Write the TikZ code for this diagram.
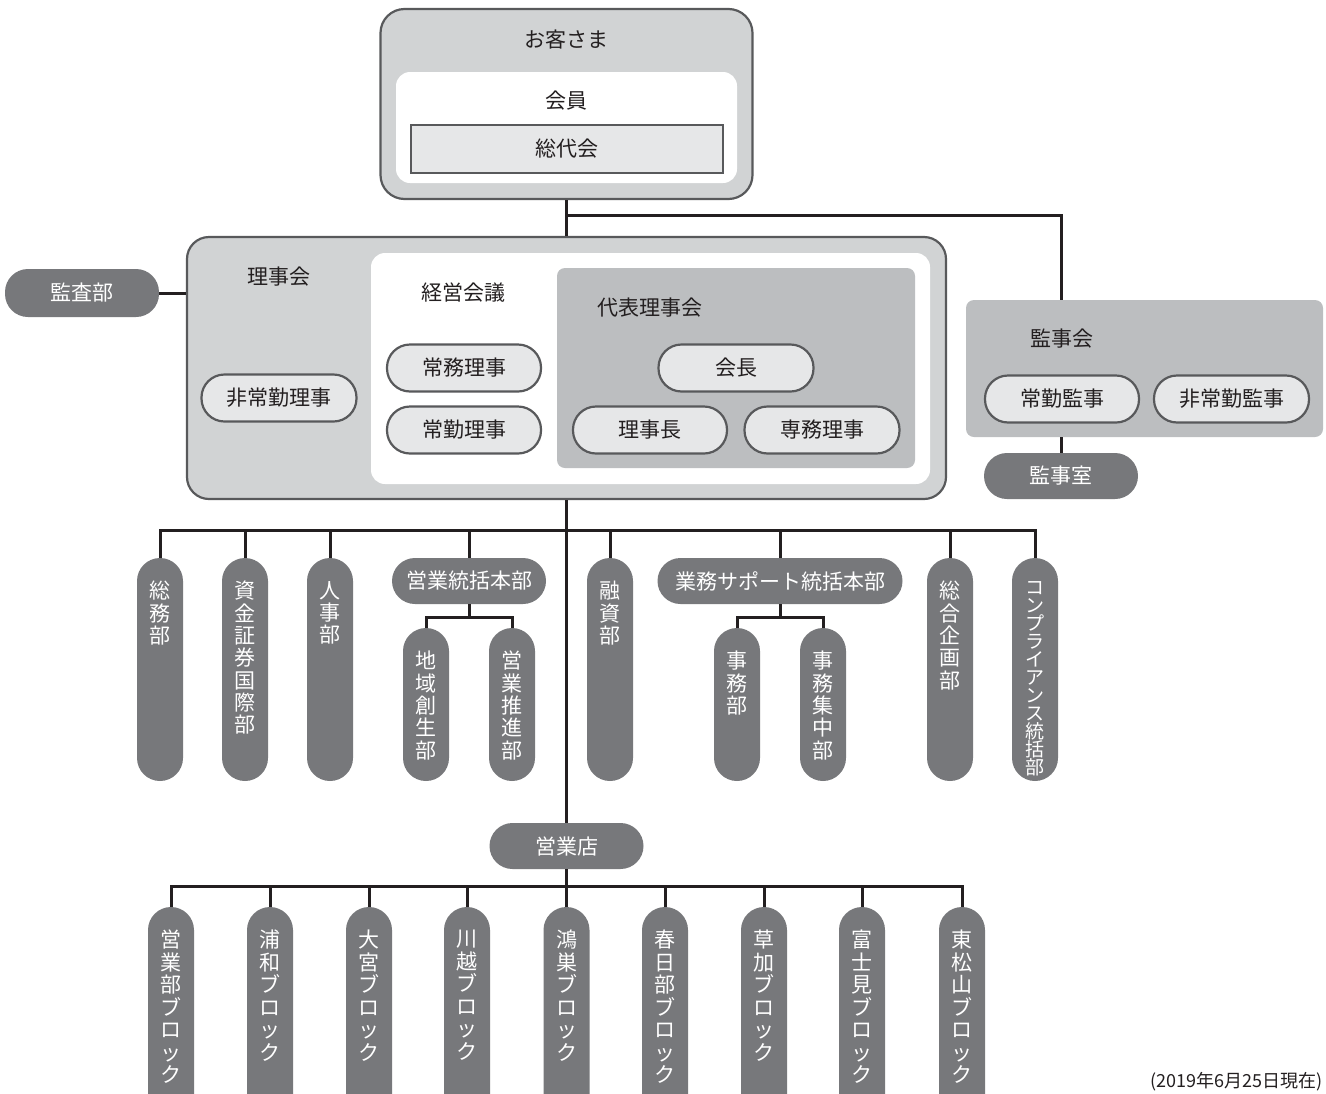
\documentclass[tikz,border=0pt]{standalone}
\usepackage{fontspec}
\setmainfont{Noto Sans CJK JP}
\definecolor{lgray}{HTML}{D1D3D4}
\definecolor{mgray}{HTML}{BCBEC0}
\definecolor{pgray}{HTML}{E6E7E8}
\definecolor{dgray}{HTML}{77787B}
\definecolor{bord}{HTML}{58595B}
\definecolor{ink}{HTML}{231F20}
\newcommand\fszA{\fontsize{21}{22.3}\selectfont}
\newcommand\fszC{\fontsize{19}{18}\selectfont}
\newcommand\fszB{\fontsize{21}{22.5}\selectfont}
\newcommand\fszL{\fontsize{21}{24}\selectfont}
\tikzset{
  outerbox/.style={draw=bord, line width=2.2pt, fill=lgray, rounded corners=24pt, inner sep=0},
  whitebox/.style={fill=white, rounded corners=14pt, inner sep=0},
  midbox/.style={fill=mgray, rounded corners=8pt, inner sep=0},
  lpill/.style={draw=bord, line width=2.2pt, fill=pgray, rounded corners=23pt, minimum width=154, minimum height=47, text=ink, font=\fszL, inner sep=0},
  dhpill/.style={fill=dgray, rounded corners=23pt, minimum height=46, text=white, font=\fszL, inner sep=0},
  dpill/.style={fill=dgray, rounded corners=23pt, minimum width=46, inner sep=0},
  vtext/.style={text=white, align=center, inner sep=0, font=\fszA},
  vtextc/.style={text=white, align=center, inner sep=0, font=\fszC},
  vtextb/.style={text=white, align=center, inner sep=0, font=\fszB},
  lbl/.style={text=ink, font=\fszL, inner sep=0},
  conn/.style={draw=ink, line width=3pt}
}
\newcommand\vpill[6]{%
  \pgfmathsetmacro\vph{#4-#3}%
  \pgfmathsetmacro\vpc{(#3+#4)/2}%
  \pgfmathsetmacro\vpt{#3+23}%
  \node[dpill, minimum height=\vph] (#1) at (#2,\vpc) {};
  \node[#6, anchor=north] (#1-t) at (#2,\vpt) {#5};
}
\begin{document}
\lineskiplimit=-30pt
\begin{tikzpicture}[x=1pt,y=-1pt]
\useasboundingbox (0,0) rectangle (1326,1093);
\clip (0,0) rectangle (1326,1093);

% top box
\node[outerbox, minimum width=372, minimum height=190] (kyaku) at (566.5,104) {};
\node[lbl] (kyakut) at (566.5,40) {お客さま};
\node[whitebox, minimum width=341, minimum height=111] (kaiin) at (566.5,127.5) {};
\node[lbl] (kaiint) at (566.5,101) {会員};
\node[draw=bord, line width=2.2pt, fill=pgray, minimum width=312, minimum height=48, inner sep=0, lbl] (sodai) at (567,149) {総代会};

% board box
\node[outerbox, minimum width=759, minimum height=262, rounded corners=22pt] (riji) at (566.5,368) {};
\node[lbl] (rijit) at (279,277) {理事会};
\node[whitebox, minimum width=559, minimum height=231] (keiei) at (650.5,368.5) {};
\node[lbl] (keieit) at (463,293) {経営会議};
\node[midbox, minimum width=358, minimum height=200] (daihyo) at (736,368) {};
\node[lbl] (daihyot) at (650,308) {代表理事会};

\node[lpill, minimum width=155] (hijokin) at (279,398) {非常勤理事};
\node[lpill] (jomu) at (464,368) {常務理事};
\node[lpill] (jokin) at (464,430) {常勤理事};
\node[lpill, minimum width=155] (kaicho) at (736,368) {会長};
\node[lpill] (rijicho) at (650,430) {理事長};
\node[lpill, minimum width=155] (senmu) at (822,430) {専務理事};

% audit
\node[dhpill, minimum width=154, minimum height=48] (kansa) at (82,293) {監査部};
\node[midbox, minimum width=357, minimum height=137] (kanjikai) at (1144.5,368.5) {};
\node[lbl] (kanjikait) at (1062,339) {監事会};
\node[lpill] (jokinkanji) at (1062,399) {常勤監事};
\node[lpill, minimum width=155] (hijokinkanji) at (1231.5,399) {非常勤監事};
\node[dhpill, minimum width=154] (kanjishitsu) at (1061,476) {監事室};

% connectors top
\coordinate (j1) at (566.5,215);
\draw[conn] (kyaku.south) -- (riji.north);
\draw[conn] (j1) -| (kanjishitsu.north |- kanjikai.north);
\draw[conn] (kanjikai.south -| kanjishitsu.north) -- (kanjishitsu.north);
\draw[conn] (kansa.east) -- (kansa.east -| riji.west);

% departments
\vpill{somu}{160}{558}{781}{総\\務\\部}{vtext}
\vpill{shikin}{245}{558}{781}{資\\金\\証\\券\\国\\際\\部}{vtext}
\vpill{jinji}{330}{558}{781}{人\\事\\部}{vtext}
\node[dhpill, minimum width=154] (eitou) at (469,581) {営業統括本部};
\vpill{chiiki}{426}{628}{781}{地\\域\\創\\生\\部}{vtext}
\vpill{suishin}{512}{628}{781}{営\\業\\推\\進\\部}{vtext}
\vpill{yushi}{610}{558}{781}{融\\資\\部}{vtext}
\node[dhpill, minimum width=245] (gyomu) at (780,581) {業務サポート統括本部};
\vpill{jimu}{737}{628}{781}{事\\務\\部}{vtext}
\vpill{shuchu}{823}{628}{781}{事\\務\\集\\中\\部}{vtext}
\vpill{sogo}{950}{558}{781}{総\\合\\企\\画\\部}{vtext}
\vpill{kompla}{1035}{558}{781}{コ\\ン\\プ\\ラ\\イ\\ア\\ン\\ス\\統\\括\\部}{vtextc}

\coordinate (bus) at (566.5,530);
\draw[conn] (riji.south) -- (bus);
\draw[conn] (somu.north) |- (bus) -| (kompla.north);
\foreach \n in {shikin,jinji,eitou,yushi,gyomu,sogo}
  \draw[conn] (\n.north) -- (\n.north |- bus);
\coordinate (sb1) at (469,617);
\draw[conn] (eitou.south) -- (sb1);
\draw[conn] (chiiki.north) |- (sb1) -| (suishin.north);
\coordinate (sb2) at (780,617);
\draw[conn] (gyomu.south) -- (sb2);
\draw[conn] (jimu.north) |- (sb2) -| (shuchu.north);

% branches
\node[dhpill, minimum width=154] (eigyoten) at (566.5,846) {営業店};
\draw[conn] (bus) -- (eigyoten.north);
\vpill{b1}{171}{907}{1120}{営\\業\\部\\ブ\\ロ\\ッ\\ク}{vtextb}
\vpill{b2}{270}{907}{1120}{浦\\和\\ブ\\ロ\\ッ\\ク}{vtextb}
\vpill{b3}{369}{907}{1120}{大\\宮\\ブ\\ロ\\ッ\\ク}{vtextb}
\vpill{b4}{467}{907}{1120}{川\\越\\ブ\\ロ\\ッ\\ク}{vtextb}
\vpill{b5}{566.5}{907}{1120}{鴻\\巣\\ブ\\ロ\\ッ\\ク}{vtextb}
\vpill{b6}{665}{907}{1120}{春\\日\\部\\ブ\\ロ\\ッ\\ク}{vtextb}
\vpill{b7}{764}{907}{1120}{草\\加\\ブ\\ロ\\ッ\\ク}{vtextb}
\vpill{b8}{862}{907}{1120}{富\\士\\見\\ブ\\ロ\\ッ\\ク}{vtextb}
\vpill{b9}{962}{907}{1120}{東\\松\\山\\ブ\\ロ\\ッ\\ク}{vtextb}
\coordinate (bus2) at (566.5,886);
\draw[conn] (eigyoten.south) -- (b5.north);
\draw[conn] (b1.north) |- (bus2) -| (b9.north);
\foreach \n in {b2,b3,b4,b6,b7,b8}
  \draw[conn] (\n.north) -- (\n.north |- bus2);

\node[anchor=base east, text=ink, inner sep=0, font=\fontsize{18}{20}\selectfont] (note) at (1323,1087) {(2019年6月25日現在)};
\end{tikzpicture}
\end{document}
